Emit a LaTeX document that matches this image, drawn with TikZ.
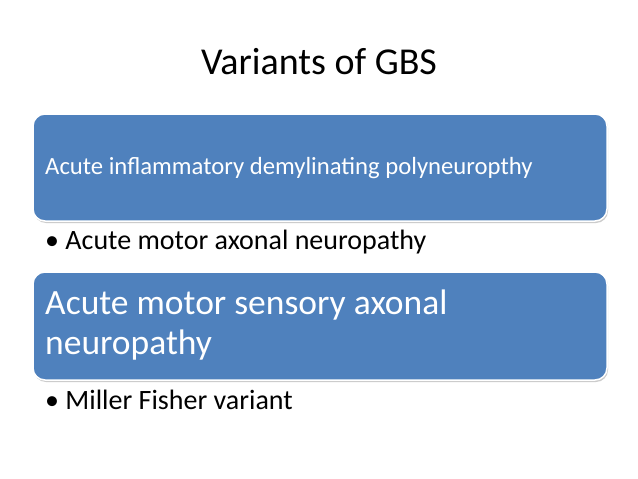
\documentclass[tikz,border=0pt]{standalone}
\usepackage{fontspec}
\setmainfont{Carlito}
\usetikzlibrary{shadows}
\definecolor{boxblue}{HTML}{4F81BD}
\tikzset{
 bluebox/.style={draw=white,line width=1.5pt,fill=boxblue,rounded corners=12pt,drop shadow={shadow xshift=1pt,shadow yshift=-2pt,opacity=0.4}},
 boxtext/.style={anchor=west,text=white,align=left,inner sep=0pt},
 bullettext/.style={anchor=west,inner sep=0pt,text=black}
}
\begin{document}
\begin{tikzpicture}[x=1pt,y=-1pt]
\useasboundingbox[fill=white] (0,0) rectangle (638,479);
\node[font=\fontsize{38}{44}\selectfont] (title) at (319,62) {Variants of GBS};
\draw[bluebox] (33,114) rectangle (607,221);
\node[boxtext,font=\fontsize{24.7}{28}\selectfont] (t1) at (45,168) {Acute inflammatory demylinating polyneuropthy};
\node[bullettext,font=\fontsize{28}{32}\selectfont] (b1) at (45,242) {• Acute motor axonal neuropathy};
\draw[bluebox] (33,272) rectangle (607,380);
\node[boxtext,font=\fontsize{35.5}{40}\selectfont] (t2) at (45,325) {Acute motor sensory axonal\\neuropathy};
\node[bullettext,font=\fontsize{28}{32}\selectfont] (b2) at (45,400) {• Miller Fisher variant};
\end{tikzpicture}
\end{document}
